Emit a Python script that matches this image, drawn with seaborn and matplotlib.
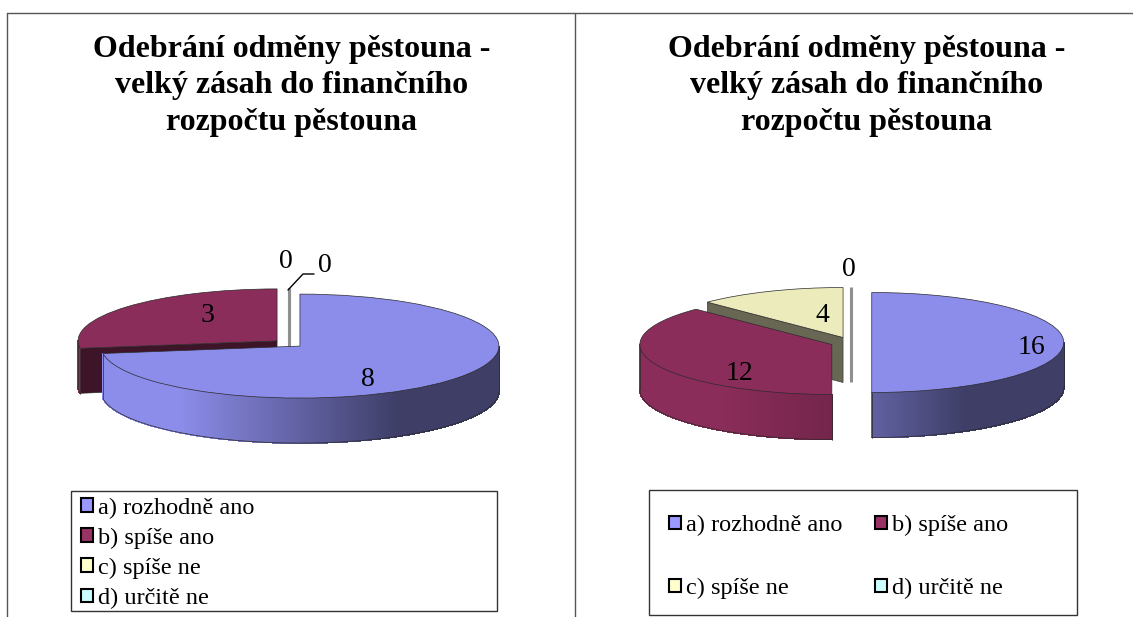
import numpy as np
import matplotlib
matplotlib.use("Agg")
import matplotlib.pyplot as plt
from matplotlib.patches import Patch, Polygon, Rectangle
from matplotlib.lines import Line2D
import seaborn as sns

# --- data ---
categories = ["a) rozhodně ano", "b) spíše ano", "c) spíše ne", "d) určitě ne"]
values_left = [8, 3, 0, 0]
values_right = [16, 12, 4, 0]
title_text = "Odebrání odměny pěstouna -\nvelký zásah do finančního\nrozpočtu pěstouna"
legend_hex = ["#9999FF", "#993366", "#FFFFCC", "#CCFFFF"]
face_hex = ["#8C8CEA", "#8B2D5A", "#EBEBBC", "#BCEBEB"]

sns.set_theme(style="white")
plt.rcParams["font.family"] = ["Liberation Serif", "DejaVu Serif"]
plt.rcParams["axes.unicode_minus"] = False

W, H = 1133, 617
fig = plt.figure(figsize=(W / 100, H / 100), dpi=100, facecolor="white")


def fx(x):
    return x / W


def fy(y):
    return 1 - y / H


def mix(a, b, t):
    return tuple(np.array(a) * (1 - t) + np.array(b) * t)


def pie3d(values, cx, cy, rx, ry, depth, explode):
    ax = fig.add_axes([0, 0, 1, 1])
    ax.patch.set_alpha(0)
    colors = sns.color_palette(face_hex)
    wedges, _ = ax.pie(values, colors=colors, startangle=90, counterclock=False,
                       explode=[explode] * len(values), radius=1, frame=False,
                       wedgeprops=dict(edgecolor="#2a2a2a", linewidth=0.5))
    ax.set_aspect("auto")
    ax.set_xlim(-cx / rx, (W - cx) / rx)
    ax.set_ylim((cy - H) / ry, cy / ry)
    ax.set_xticks([])
    ax.set_yticks([])
    d = depth / ry
    order = sorted(range(len(values)), key=lambda i: -wedges[i].center[1])
    for rank, i in enumerate(order):
        w = wedges[i]
        c0, c1 = w.center
        base = colors[i]
        dark = tuple(np.array(base) * 0.44)
        z = 2 * rank + 2
        w.set_zorder(z + 1)
        if values[i] == 0:
            w.set_visible(False)
            ax.plot([c0, c0], [c1 - d, c1 + 1], color="#8f8f8f", lw=2.2, zorder=z,
                    solid_capstyle="butt")
            continue
        # radial cut faces turned to the viewer
        for th, sign in ((w.theta1, 1), (w.theta2, -1)):
            if sign * np.cos(np.radians(th)) > 0.01:
                ex = c0 + np.cos(np.radians(th))
                ey = c1 + np.sin(np.radians(th))
                ax.add_patch(Polygon([(c0, c1), (ex, ey), (ex, ey - d), (c0, c1 - d)],
                                     closed=True, facecolor=dark, edgecolor="#2a2a2a",
                                     lw=0.4, zorder=z))
        # outer wall, shaded by position
        angles = np.arange(w.theta1, w.theta2 + 0.5, 0.5)
        angles = angles[np.sin(np.radians(angles)) <= 0.0001]
        for a0, a1 in zip(angles[:-1], angles[1:]):
            t0, t1 = np.radians(a0), np.radians(a1)
            u = np.cos((t0 + t1) / 2)
            t = float(np.clip((u + 0.6) / 1.1, 0, 1))
            col = mix(base, dark, t if i == 0 else t * 0.55)
            pts = [(c0 + np.cos(t0), c1 + np.sin(t0)), (c0 + np.cos(t1), c1 + np.sin(t1)),
                   (c0 + np.cos(t1), c1 + np.sin(t1) - d), (c0 + np.cos(t0), c1 + np.sin(t0) - d)]
            ax.add_patch(Polygon(pts, closed=True, facecolor=col, edgecolor=col, lw=0.6,
                                 antialiased=False, zorder=z))
        if len(angles) > 1:
            r = np.radians(angles)
            ax.plot(c0 + np.cos(r), c1 + np.sin(r) - d, color="#2a2a2a", lw=0.5, zorder=z)
            for rr in (r[0], r[-1]):
                ax.plot([c0 + np.cos(rr)] * 2, [c1 + np.sin(rr), c1 + np.sin(rr) - d],
                        color="#2a2a2a", lw=0.5, zorder=z)
    return ax


pie3d(values_left, 288.5, 343.5, 199, 52, 45, 0.076)
pie3d(values_right, 851, 342.5, 192, 50, 45, 0.108)


def label(x, y, v, size=20):
    fig.text(fx(x), fy(y + 2), str(v), ha="center", va="center", fontsize=size, color="black", zorder=20)


label(368, 377, values_left[0])
label(207, 313, values_left[1])
label(286, 260, values_left[2])
label(325, 264, values_left[3])
label(1031, 345, values_right[0])
label(739, 371, values_right[1])
label(822, 313, values_right[2])
label(849, 267, values_right[3])
fig.add_artist(Line2D([fx(288), fx(303), fx(314)], [fy(290), fy(274), fy(274)],
                      color="black", lw=1.0, zorder=20))

# titles
for xc in (291.5, 866.5):
    fig.text(fx(xc), fy(86), title_text, ha="center", va="center", fontsize=23,
             fontweight="bold", color="black", linespacing=1.33, zorder=20)

# panel frame
for xs, ys in (((7, 1133), (13, 13)), ((7, 7), (13, 617)), ((574.5, 574.5), (13, 617))):
    fig.add_artist(Line2D([fx(x) for x in xs], [fy(y) for y in ys], color="#555555", lw=1.0))

# legends
handles = [Patch(facecolor=c, edgecolor="black", linewidth=1.5) for c in sns.color_palette(legend_hex)]
for x0, y0, x1, y1 in ((71, 491, 497, 611), (649, 490, 1077, 615)):
    fig.add_artist(Rectangle((fx(x0), fy(y1)), (x1 - x0) / W, (y1 - y0) / H, transform=fig.transFigure,
                             facecolor="white", edgecolor="#333333", lw=1.0, zorder=5))

legend_kw = dict(frameon=False, fontsize=17.5, handlelength=0.5, handleheight=0.5,
                 handletextpad=0.2, borderpad=0, borderaxespad=0, labelcolor="black")
lg1 = fig.legend(handles, categories, loc="upper left", ncol=1,
                 bbox_to_anchor=(fx(81), fy(497.5)), labelspacing=0.37, **legend_kw)
# two columns fill downwards, so a/c go first and b/d second to read row by row
row_order = [0, 2, 1, 3]
lg2 = fig.legend([handles[i] for i in row_order], [categories[i] for i in row_order],
                 loc="upper left", ncol=2, bbox_to_anchor=(fx(669), fy(515)),
                 labelspacing=1.72, columnspacing=1.35, **legend_kw)
lg1.set_zorder(30)
lg2.set_zorder(30)

fig.savefig("out.png", dpi=100, facecolor="white")
